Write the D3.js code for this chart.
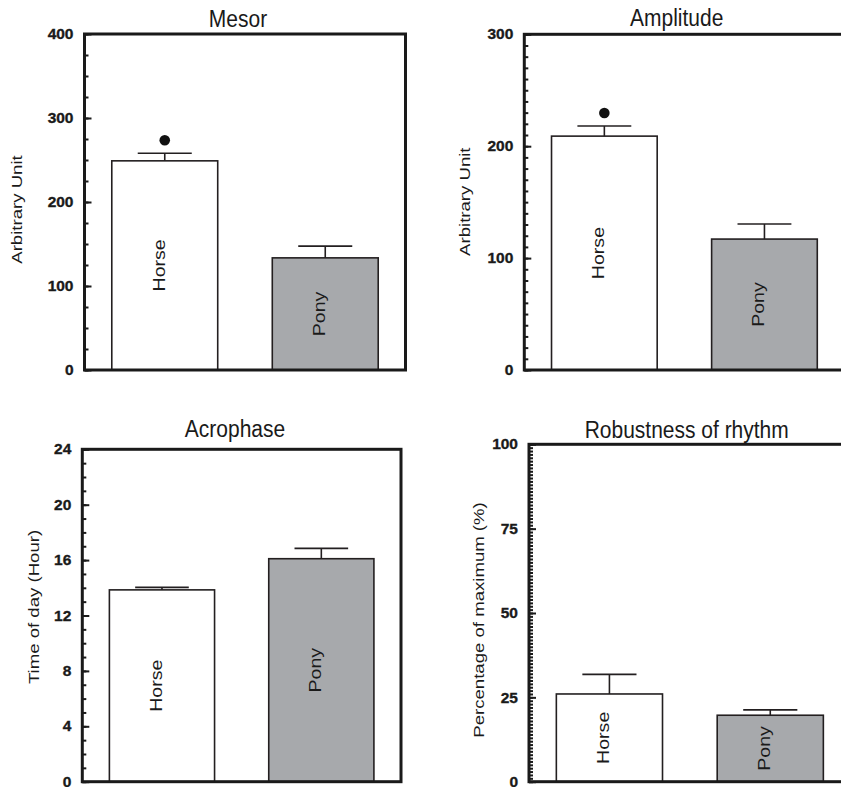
<!DOCTYPE html>
<html>
<head>
<meta charset="utf-8">
<script src="https://cdn.jsdelivr.net/npm/d3@7"></script>
<style>
  body { margin: 0; background: #fff; }
  svg { display: block; font-family: "Liberation Sans", Arial, sans-serif; }
</style>
</head>
<body>
<div id="chart"></div>
<script>
// Chart area
var svgWidth = 841;
var svgHeight = 787;

// Data (mean and error bar height)
var groups = ["Horse", "Pony"];
var mesorMean = [249, 133.5];
var mesorErr = [9, 14];
var amplitudeMean = [209, 117];
var amplitudeErr = [9, 13.5];
var acrophaseMean = [13.85, 16.1];
var acrophaseErr = [0.18, 0.75];
var robustnessMean = [26, 19.7];
var robustnessErr = [5.8, 1.6];
// significance dot above the bar
var mesorSig = [true, false];
var amplitudeSig = [true, false];
var acrophaseSig = [false, false];
var robustnessSig = [false, false];

var barColors = ["#ffffff", "#a7a9ac"];
var stretch = 1.2; // text in the figure is slightly taller than wide

// Panel layout
var panels = [
    { title: "Mesor", yLabel: "Arbitrary Unit", mean: mesorMean, err: mesorErr, sig: mesorSig,
      domain: [0, 400], major: 100, minor: 25,
      x0: 84.5, x1: 405.5, y0: 34, y1: 370, titleX: 238, titleY: 27, labX: 22, labY: 209.5 },
    { title: "Amplitude", yLabel: "Arbitrary Unit", mean: amplitudeMean, err: amplitudeErr, sig: amplitudeSig,
      domain: [0, 300], major: 100, minor: 10,
      x0: 524.3, x1: 844.5, y0: 34.3, y1: 370, titleX: 676.7, titleY: 26, labX: 470, labY: 201.7 },
    { title: "Acrophase", yLabel: "Time of day (Hour)", mean: acrophaseMean, err: acrophaseErr, sig: acrophaseSig,
      domain: [0, 24], major: 4, minor: 1,
      x0: 82.3, x1: 401, y0: 449.3, y1: 781.7, titleX: 235, titleY: 436.5, labX: 38.5, labY: 607 },
    { title: "Robustness of rhythm", yLabel: "Percentage of maximum (%)", mean: robustnessMean, err: robustnessErr, sig: robustnessSig,
      domain: [0, 100], major: 25, minor: 1,
      x0: 529, x1: 850.7, y0: 444.3, y1: 781.7, titleX: 686.7, titleY: 437.5, labX: 483.5, labY: 620 }
];

var svg = d3.select("#chart")
    .append("svg")
    .attr("width", svgWidth)
    .attr("height", svgHeight);

panels.forEach(function (p) {
    var g = svg.append("g");

    var x = d3.scaleBand()
        .domain(groups)
        .range([p.x0, p.x1])
        .paddingInner(0.34)
        .paddingOuter(0.17);
    var y = d3.scaleLinear()
        .domain(p.domain)
        .range([p.y1, p.y0]);

    var data = groups.map(function (name, i) {
        return { name: name, mean: p.mean[i], err: p.err[i], sig: p.sig[i], color: barColors[i] };
    });

    // minor ticks (inside)
    var minorTicks = d3.range(p.domain[0], p.domain[1] + 1e-9, p.minor);
    g.append("g")
        .attr("transform", `translate(${p.x0},0)`)
        .call(d3.axisLeft(y).tickValues(minorTicks).tickSize(-4).tickFormat(""))
        .call(a => a.select(".domain").remove())
        .call(a => a.selectAll("line").attr("stroke", "#1a1a1a").attr("stroke-width", 2));

    // major ticks with labels
    var majorTicks = d3.range(p.domain[0], p.domain[1] + 1e-9, p.major);
    g.append("g")
        .attr("transform", `translate(${p.x0},0)`)
        .call(d3.axisLeft(y).tickValues(majorTicks).tickSize(-7).tickPadding(11).tickFormat(d3.format("d")))
        .call(a => a.select(".domain").remove())
        .call(a => a.selectAll("line").attr("stroke", "#1a1a1a").attr("stroke-width", 2))
        .call(a => a.selectAll("text")
            .attr("fill", "#1a1a1a")
            .attr("stroke", "#1a1a1a")
            .attr("stroke-width", 0.35)
            .attr("dy", "0.3em")
            .style("font-size", "15.5px")
            .style("font-weight", "bold")
            .style("font-family", "'Liberation Sans', Arial, sans-serif"));

    // bars
    g.selectAll("rect.bar")
        .data(data)
        .enter()
        .append("rect")
        .attr("class", "bar")
        .attr("x", d => x(d.name))
        .attr("y", d => y(d.mean))
        .attr("width", x.bandwidth())
        .attr("height", d => y(p.domain[0]) - y(d.mean))
        .attr("fill", d => d.color)
        .attr("stroke", "#231f20")
        .attr("stroke-width", 1.6);

    // error bars (upper only)
    var cap = x.bandwidth() * 0.51;
    data.forEach(function (d) {
        var cx = x(d.name) + x.bandwidth() / 2;
        g.append("line")
            .attr("x1", cx).attr("x2", cx)
            .attr("y1", y(d.mean)).attr("y2", y(d.mean + d.err))
            .attr("stroke", "#231f20").attr("stroke-width", 1.6);
        g.append("line")
            .attr("x1", cx - cap / 2).attr("x2", cx + cap / 2)
            .attr("y1", y(d.mean + d.err)).attr("y2", y(d.mean + d.err))
            .attr("stroke", "#231f20").attr("stroke-width", 1.6);
        if (d.sig) {
            g.append("circle")
                .attr("cx", cx)
                .attr("cy", y(d.mean + d.err) - 13)
                .attr("r", 5.3)
                .attr("fill", "#111");
        }
        // group name inside bar
        var cy = (y(d.mean) + y(p.domain[0])) / 2;
        g.append("text")
            .attr("transform", `translate(${cx},${cy}) scale(1,${stretch}) rotate(-90)`)
            .style("text-anchor", "middle")
            .style("font-size", "16.3px")
            .attr("fill", "#1a1a1a")
            .text(d.name);
    });

    // frame
    g.append("rect")
        .attr("x", p.x0)
        .attr("y", p.y0)
        .attr("width", p.x1 - p.x0)
        .attr("height", p.y1 - p.y0)
        .attr("fill", "none")
        .attr("stroke", "#1a1a1a")
        .attr("stroke-width", 3);

    // title
    g.append("text")
        .attr("transform", `translate(${p.titleX},${p.titleY}) scale(1,1.1)`)
        .style("text-anchor", "middle")
        .style("font-size", "21px")
        .attr("fill", "#1a1a1a")
        .text(p.title);

    // y axis label
    g.append("text")
        .attr("transform", `translate(${p.labX},${p.labY}) scale(1,${stretch}) rotate(-90)`)
        .style("text-anchor", "middle")
        .style("font-size", "15.5px")
        .attr("fill", "#1a1a1a")
        .text(p.yLabel);
});
</script>
</body>
</html>
